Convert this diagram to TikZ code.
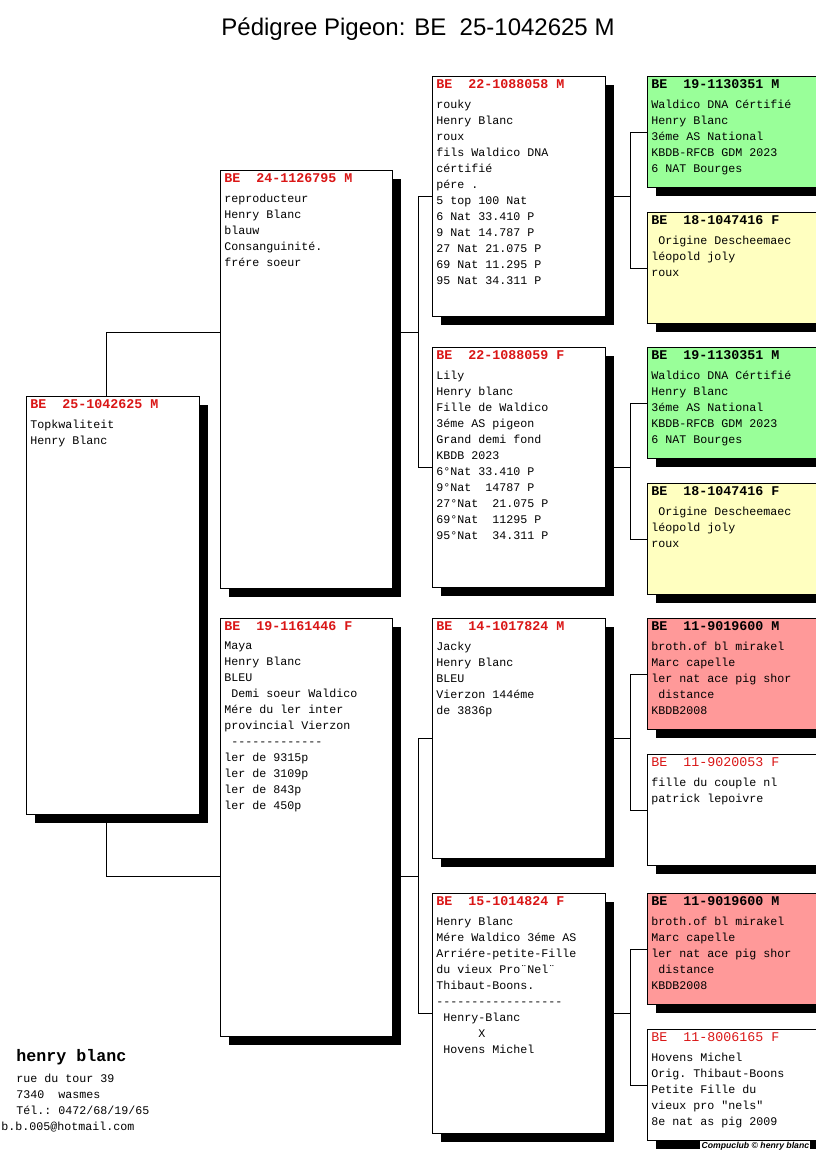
\documentclass[tikz,border=0pt]{standalone}
\usepackage{fontspec}
\setmainfont{Liberation Sans}
\setmonofont{Liberation Mono}
\usetikzlibrary{shadows,backgrounds,calc}

\definecolor{ringred}{RGB}{218,22,22}
\definecolor{cockgreen}{RGB}{153,255,153}
\definecolor{henyellow}{RGB}{255,255,192}
\definecolor{cockred}{RGB}{255,153,153}

\begin{document}
\begin{tikzpicture}[x=0.75pt,y=-0.75pt,
    box/.style={draw,fill=white,line width=0.75pt,anchor=north west,inner sep=0pt,
      drop shadow={shadow xshift=6pt,shadow yshift=-6pt,opacity=1,fill=black}},
    gen1/.style={box,minimum width=129.75pt,minimum height=313.5pt},
    gen2/.style={box,minimum width=129pt,minimum height=313.5pt},
    gen3/.style={box,minimum width=129.75pt,minimum height=180pt},
    gen4/.style={box,minimum width=129pt,minimum height=83.25pt},
    ring/.style={anchor=base west,inner sep=0pt,text=ringred,
      font=\ttfamily\bfseries\fontsize{10}{12}\selectfont},
    ringblack/.style={ring,text=black},
    ringthin/.style={ring,font=\ttfamily\fontsize{10}{12}\selectfont},
    info/.style={anchor=north west,inner sep=0pt,align=left,
      font=\ttfamily\fontsize{8.75}{12}\selectfont,execute at begin node=\strut},
    link/.style={line width=0.75pt}]
\useasboundingbox (0,0) rectangle (816,1172);

\node[font=\fontsize{18}{20}\selectfont] (title) at (418,29) {Pédigree Pigeon: BE~~25-1042625 M};

% pigeon
\node[gen1] (b) at (26,396) {};
\node[ring] (b-r) at ([xshift=3pt,yshift=-9.2pt]b.north west) {BE~~25-1042625 M};
\node[info] (b-t) at ([xshift=3pt,yshift=-17.5pt]b.north west) {Topkwaliteit\\Henry Blanc};

% parents
\node[gen2] (v) at (220,170) {};
\node[ring] (v-r) at ([xshift=3pt,yshift=-9.2pt]v.north west) {BE~~24-1126795 M};
\node[info] (v-t) at ([xshift=3pt,yshift=-17.5pt]v.north west) {reproducteur\\Henry Blanc\\blauw\\Consanguinité.\\frére soeur};

\node[gen2] (m) at (220,618) {};
\node[ring] (m-r) at ([xshift=3pt,yshift=-9.2pt]m.north west) {BE~~19-1161446 F};
\node[info] (m-t) at ([xshift=3pt,yshift=-17.5pt]m.north west) {Maya\\Henry Blanc\\BLEU\\\hspace*{.6em}Demi soeur Waldico\\Mére du ler inter\\provincial Vierzon\\\hspace*{.6em}-------------\\ler de 9315p\\ler de 3109p\\ler de 843p\\ler de 450p};

% grandparents
\node[gen3] (vv) at (432,76) {};
\node[ring] (vv-r) at ([xshift=3pt,yshift=-9.2pt]vv.north west) {BE~~22-1088058 M};
\node[info] (vv-t) at ([xshift=3pt,yshift=-17.5pt]vv.north west) {rouky\\Henry Blanc\\roux\\fils Waldico DNA\\cértifié\\pére .\\5 top 100 Nat\\6 Nat 33.410 P\\9 Nat 14.787 P\\27 Nat 21.075 P\\69 Nat 11.295 P\\95 Nat 34.311 P};

\node[gen3] (vm) at (432,347) {};
\node[ring] (vm-r) at ([xshift=3pt,yshift=-9.2pt]vm.north west) {BE~~22-1088059 F};
\node[info] (vm-t) at ([xshift=3pt,yshift=-17.5pt]vm.north west) {Lily\\Henry blanc\\Fille de Waldico\\3éme AS pigeon\\Grand demi fond\\KBDB 2023\\6°Nat 33.410 P\\9°Nat~~14787 P\\27°Nat~~21.075 P\\69°Nat~~11295 P\\95°Nat~~34.311 P};

\node[gen3] (mv) at (432,618) {};
\node[ring] (mv-r) at ([xshift=3pt,yshift=-9.2pt]mv.north west) {BE~~14-1017824 M};
\node[info] (mv-t) at ([xshift=3pt,yshift=-17.5pt]mv.north west) {Jacky\\Henry Blanc\\BLEU\\Vierzon 144éme\\de 3836p};

\node[gen3] (mm) at (432,893) {};
\node[ring] (mm-r) at ([xshift=3pt,yshift=-9.2pt]mm.north west) {BE~~15-1014824 F};
\node[info] (mm-t) at ([xshift=3pt,yshift=-17.5pt]mm.north west) {Henry Blanc\\Mére Waldico 3éme AS\\Arriére-petite-Fille\\du vieux Pro¨Nel¨\\Thibaut-Boons.\\------------------\\\hspace*{.6em}Henry-Blanc\\\hspace*{3.6em}X\\\hspace*{.6em}Hovens Michel};

% great-grandparents
\node[gen4,fill=cockgreen] (vvv) at (647,76) {};
\node[ringblack] (vvv-r) at ([xshift=3pt,yshift=-9.2pt]vvv.north west) {BE~~19-1130351 M};
\node[info] (vvv-t) at ([xshift=3pt,yshift=-17.5pt]vvv.north west) {Waldico DNA Cértifié\\Henry Blanc\\3éme AS National\\KBDB-RFCB GDM 2023\\6 NAT Bourges};

\node[gen4,fill=henyellow] (vvm) at (647,212) {};
\node[ringblack] (vvm-r) at ([xshift=3pt,yshift=-9.2pt]vvm.north west) {BE~~18-1047416 F};
\node[info] (vvm-t) at ([xshift=3pt,yshift=-17.5pt]vvm.north west) {\hspace*{.6em}Origine Descheemaec\\léopold joly\\roux};

\node[gen4,fill=cockgreen] (vmv) at (647,347) {};
\node[ringblack] (vmv-r) at ([xshift=3pt,yshift=-9.2pt]vmv.north west) {BE~~19-1130351 M};
\node[info] (vmv-t) at ([xshift=3pt,yshift=-17.5pt]vmv.north west) {Waldico DNA Cértifié\\Henry Blanc\\3éme AS National\\KBDB-RFCB GDM 2023\\6 NAT Bourges};

\node[gen4,fill=henyellow] (vmm) at (647,483) {};
\node[ringblack] (vmm-r) at ([xshift=3pt,yshift=-9.2pt]vmm.north west) {BE~~18-1047416 F};
\node[info] (vmm-t) at ([xshift=3pt,yshift=-17.5pt]vmm.north west) {\hspace*{.6em}Origine Descheemaec\\léopold joly\\roux};

\node[gen4,fill=cockred] (mvv) at (647,618) {};
\node[ringblack] (mvv-r) at ([xshift=3pt,yshift=-9.2pt]mvv.north west) {BE~~11-9019600 M};
\node[info] (mvv-t) at ([xshift=3pt,yshift=-17.5pt]mvv.north west) {broth.of bl mirakel\\Marc capelle\\ler nat ace pig shor\\\hspace*{.6em}distance\\KBDB2008};

\node[gen4] (mvm) at (647,754) {};
\node[ringthin] (mvm-r) at ([xshift=3pt,yshift=-9.2pt]mvm.north west) {BE~~11-9020053 F};
\node[info] (mvm-t) at ([xshift=3pt,yshift=-17.5pt]mvm.north west) {fille du couple nl\\patrick lepoivre};

\node[gen4,fill=cockred] (mmv) at (647,893) {};
\node[ringblack] (mmv-r) at ([xshift=3pt,yshift=-9.2pt]mmv.north west) {BE~~11-9019600 M};
\node[info] (mmv-t) at ([xshift=3pt,yshift=-17.5pt]mmv.north west) {broth.of bl mirakel\\Marc capelle\\ler nat ace pig shor\\\hspace*{.6em}distance\\KBDB2008};

\node[gen4] (mmm) at (647,1029) {};
\node[ringthin] (mmm-r) at ([xshift=3pt,yshift=-9.2pt]mmm.north west) {BE~~11-8006165 F};
\node[info] (mmm-t) at ([xshift=3pt,yshift=-17.5pt]mmm.north west) {Hovens Michel\\Orig. Thibaut-Boons\\Petite Fille du\\vieux pro "nels"\\8e nat as pig 2009};

% breeder
\node[anchor=base west,inner sep=0pt,font=\ttfamily\bfseries\fontsize{12.5}{14}\selectfont] (owner) at (16,1061) {henry blanc};
\node[info] (addr) at (16,1074) {rue du tour 39\\7340~~wasmes\\Tél.: 0472/68/19/65};
\node[anchor=base west,inner sep=0pt,font=\ttfamily\fontsize{8.75}{12}\selectfont] (mail) at (1,1130) {b.b.005@hotmail.com};
\node[anchor=west,fill=white,inner sep=1pt,font=\bfseries\itshape\fontsize{6.5}{7}\selectfont] (credit) at (700,1146) {Compuclub © henry blanc};

% lines behind the boxes
\coordinate (jv) at ($(vv)!.5!(vm)$);
\coordinate (jm) at ($(mv)!.5!(mm)$);
\begin{scope}[on background layer]
\draw[link] (v.west |- jv) -- (106,0 |- jv) -- (106,0 |- jm) -- (m.west |- jm);
\draw[link] (v.west |- jv) -- (418,0 |- jv);
\draw[link] (m.west |- jm) -- (418,0 |- jm);
\draw[link] (vv.west) -- (418,0 |- vv) -- (418,0 |- vm) -- (vm.west);
\draw[link] (mv.west) -- (418,0 |- mv) -- (418,0 |- mm) -- (mm.west);
\foreach \p/\a/\c in {vv/vvv/vvm,vm/vmv/vmm,mv/mvv/mvm,mm/mmv/mmm}{
  \draw[link] (\p) -- (630,0 |- \p);
  \draw[link] (\a.west) -- (630,0 |- \a) -- (630,0 |- \c) -- (\c.west);
}
\end{scope}
\end{tikzpicture}
\end{document}
